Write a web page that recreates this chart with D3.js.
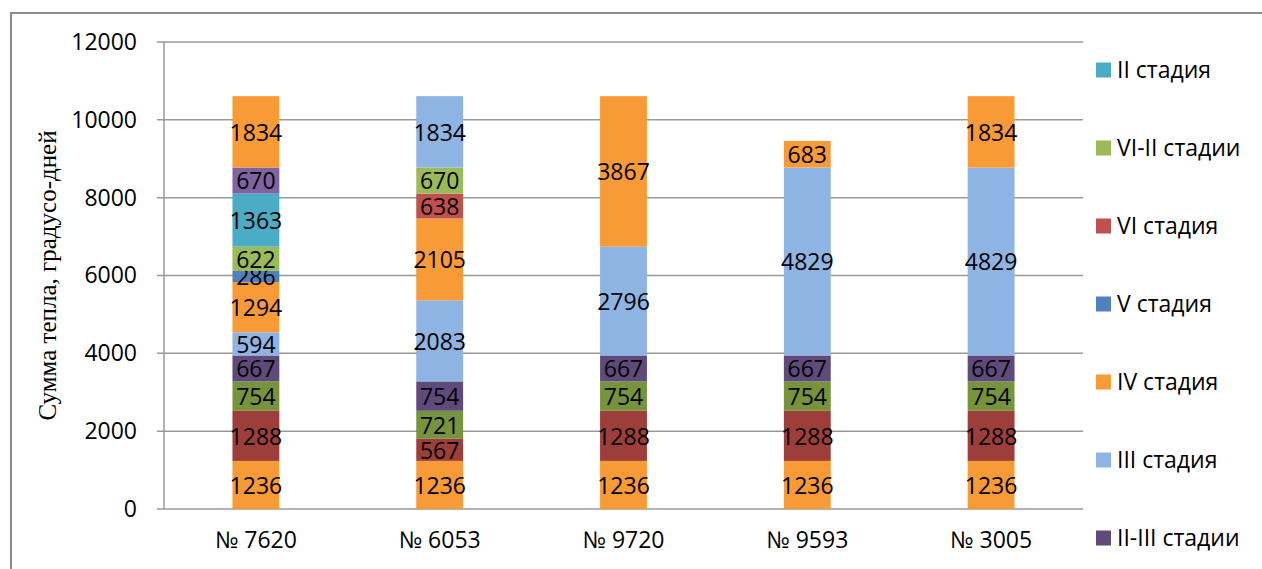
<!DOCTYPE html>
<html>
<head>
<meta charset="utf-8">
<script src="https://cdn.jsdelivr.net/npm/d3@7"></script>
<style>
    body { margin: 0; background: #fff; }
    #chart { width: 1262px; height: 569px; }
    .tick-label, .cat-label, .seg-label, .legend-label { font-family: "Open Sans", sans-serif; fill: #000; }
</style>
</head>
<body>
<div id="chart"></div>
<script>
// categories (bars)
const categories = ["№ 7620", "№ 6053", "№ 9720", "№ 9593", "№ 3005"];

// series in stacking order, bottom to top (zero = no segment)
const seriesKeys = ["s1", "s2", "s3", "s4", "s5", "s6", "s7", "s8", "s9", "s10", "s11", "s12", "s13"];
const seriesNames = ["I стадия", "I-II стадии", "II стадия (1)", "II-III стадии", "III стадия", "IV стадия",
    "V стадия", "VI стадия", "VI-II стадии", "II стадия", "VI-II стадии (2)", "III стадия (2)", "IV стадия (2)"];
const seriesColors = ["#F89A36", "#9E3E3B", "#77933C", "#604A7B", "#8DB4E2", "#F89A36",
    "#4F81BD", "#C0504D", "#9BBB59", "#4BACC6", "#8064A2", "#8DB4E2", "#F89A36"];
const seriesValues = [
    [1236, 1236, 1236, 1236, 1236],
    [1288, 567, 1288, 1288, 1288],
    [754, 721, 754, 754, 754],
    [667, 754, 667, 667, 667],
    [594, 2083, 2796, 4829, 4829],
    [1294, 2105, 3867, 683, 1834],
    [286, 0, 0, 0, 0],
    [0, 638, 0, 0, 0],
    [622, 670, 0, 0, 0],
    [1363, 0, 0, 0, 0],
    [670, 0, 0, 0, 0],
    [0, 1834, 0, 0, 0],
    [1834, 0, 0, 0, 0]
];

// legend entries as shown, top to bottom (index into series)
const legendSeries = [9, 8, 7, 6, 5, 4, 3];

const yTicks = [0, 2000, 4000, 6000, 8000, 10000, 12000];
const yTitle = "Сумма тепла, градусо-дней";


class StackedBarVis {

    constructor(parentElement) {
        this.parentElement = parentElement;
        this.initVis();
    }

    initVis() {
        let vis = this;
        vis.margin = {top: 42, left: 164, right: 179, bottom: 60};
        vis.width = 1262 - vis.margin.left - vis.margin.right;
        vis.height = 509 - vis.margin.top;

        vis.root = d3.select("#" + vis.parentElement).append("svg")
            .attr("width", 1262)
            .attr("height", 569);

        // chart frame
        vis.root.append("rect")
            .attr("x", 11).attr("y", 13)
            .attr("width", 1300).attr("height", 600)
            .attr("fill", "none")
            .attr("stroke", "#8c8c8c")
            .attr("stroke-width", 2);

        vis.svg = vis.root.append("g")
            .attr("transform", `translate(${vis.margin.left}, ${vis.margin.top})`);

        vis.wrangleData();
    }

    wrangleData() {
        let vis = this;
        vis.table = categories.map((c, i) => {
            let row = {cat: c};
            seriesKeys.forEach((k, j) => row[k] = seriesValues[j][i]);
            return row;
        });
        vis.stacked = d3.stack().keys(seriesKeys)(vis.table);
        vis.updateVis();
    }

    updateVis() {
        let vis = this;

        vis.xScale = d3.scaleBand()
            .domain(categories)
            .range([0, vis.width])
            .paddingInner(0.745)
            .paddingOuter(0.3725);
        vis.yScale = d3.scaleLinear()
            .domain([0, 12000])
            .range([vis.height, 0]);

        // gridlines
        vis.svg.append("g")
            .selectAll("line")
            .data(yTicks)
            .enter().append("line")
            .attr("x1", -7).attr("x2", vis.width)
            .attr("y1", d => vis.yScale(d)).attr("y2", d => vis.yScale(d))
            .attr("stroke", "#999").attr("stroke-width", 1.5);

        // y axis line
        vis.svg.append("line")
            .attr("x1", 0).attr("x2", 0)
            .attr("y1", 0).attr("y2", vis.height)
            .attr("stroke", "#999").attr("stroke-width", 1.5);

        let yAxis = vis.svg.append("g")
            .call(d3.axisLeft(vis.yScale).tickValues(yTicks).tickFormat(d3.format("d")).tickSize(0).tickPadding(27));
        yAxis.select(".domain").remove();
        yAxis.selectAll("text")
            .attr("class", "tick-label")
            .style("font-size", "23px")
            .style("font-family", "Open Sans, sans-serif")
            .attr("fill", "#000");

        let xAxis = vis.svg.append("g")
            .attr("transform", `translate(0, ${vis.height})`)
            .call(d3.axisBottom(vis.xScale).tickSize(0).tickPadding(23));
        xAxis.select(".domain").remove();
        xAxis.selectAll("text")
            .attr("class", "cat-label")
            .style("font-size", "23px")
            .style("font-family", "Open Sans, sans-serif")
            .attr("fill", "#000");

        // y title
        vis.root.append("text")
            .attr("transform", `translate(56, ${vis.margin.top + vis.height / 2}) rotate(-90)`)
            .attr("text-anchor", "middle")
            .style("font-family", "Liberation Serif, Times New Roman, serif")
            .style("font-size", "25px")
            .attr("fill", "#000")
            .text(yTitle);

        // bars
        let layers = vis.svg.selectAll(".layer")
            .data(vis.stacked)
            .enter().append("g")
            .attr("class", "layer")
            .attr("fill", (d, i) => seriesColors[i]);

        layers.selectAll("rect")
            .data(d => d.filter(p => p[1] - p[0] > 0))
            .enter().append("rect")
            .attr("x", d => vis.xScale(d.data.cat))
            .attr("y", d => vis.yScale(d[1]))
            .attr("height", d => vis.yScale(d[0]) - vis.yScale(d[1]))
            .attr("width", vis.xScale.bandwidth());

        // value labels
        layers.selectAll("text")
            .data(d => d.filter(p => p[1] - p[0] > 0))
            .enter().append("text")
            .attr("class", "seg-label")
            .attr("x", d => vis.xScale(d.data.cat) + vis.xScale.bandwidth() / 2)
            .attr("y", d => vis.yScale((d[0] + d[1]) / 2))
            .attr("dy", "0.38em")
            .attr("text-anchor", "middle")
            .style("font-size", "23px")
            .attr("fill", "#000")
            .text(d => d[1] - d[0]);

        // legend
        let legend = vis.root.append("g")
            .selectAll("g")
            .data(legendSeries)
            .enter().append("g")
            .attr("transform", (d, i) => `translate(1096, ${70 + i * 78})`);
        legend.append("rect")
            .attr("x", 0).attr("y", -7.5)
            .attr("width", 15).attr("height", 15)
            .attr("fill", d => seriesColors[d]);
        legend.append("text")
            .attr("class", "legend-label")
            .attr("x", 21)
            .attr("dy", "0.36em")
            .style("font-size", "23px")
            .text(d => seriesNames[d]);
    }
}

new StackedBarVis("chart");
</script>
</body>
</html>
